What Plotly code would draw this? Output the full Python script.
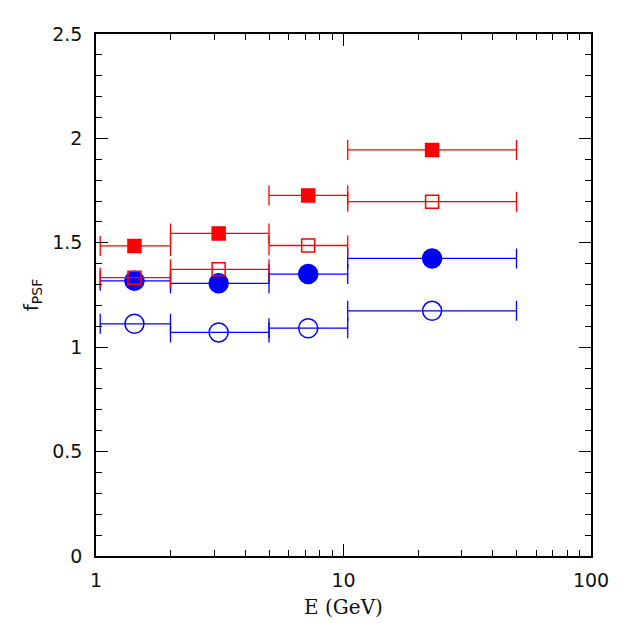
import plotly.graph_objects as go

# Energy bins (GeV)
bin_lo = [1.04, 2.0, 5.0, 10.4]
bin_hi = [2.0, 5.0, 10.4, 50.0]
e_center = [1.43, 3.13, 7.2, 22.8]

# f_PSF values
red_filled = [1.485, 1.545, 1.727, 1.945]
red_open = [1.333, 1.373, 1.487, 1.697]
blue_filled = [1.318, 1.306, 1.350, 1.425]
blue_open = [1.112, 1.071, 1.091, 1.174]

err_plus = [h - c for h, c in zip(bin_hi, e_center)]
err_minus = [c - l for c, l in zip(e_center, bin_lo)]

RED = "#ff0000"
BLUE = "#0000ff"

def series(y, color, symbol, size, name):
    return go.Scatter(
        x=e_center, y=y, mode="markers", name=name,
        marker=dict(symbol=symbol, size=size, color=color,
                    line=dict(color=color, width=1.5)),
        error_x=dict(type="data", symmetric=False, array=err_plus,
                     arrayminus=err_minus, color=color, thickness=1.3, width=10),
        showlegend=False,
    )

fig = go.Figure()
fig.add_trace(series(blue_open, BLUE, "circle-open", 19, "blue open"))
fig.add_trace(series(blue_filled, BLUE, "circle", 19, "blue filled"))
fig.add_trace(series(red_open, RED, "square-open", 13, "red open"))
fig.add_trace(series(red_filled, RED, "square", 13, "red filled"))

minor_x = [2, 3, 4, 5, 6, 7, 8, 9, 20, 30, 40, 50, 60, 70, 80, 90]

fig.update_layout(
    width=623, height=623,
    margin=dict(l=88, r=40, t=26, b=75),
    plot_bgcolor="white", paper_bgcolor="white",
    font=dict(family="DejaVu Sans", size=19, color="#111"),
    xaxis=dict(
        type="log", range=[0, 2],
        tickvals=[1, 10, 100], ticktext=["1", "10", "100"],
        ticks="inside", ticklen=12, tickwidth=1.2, tickcolor="black",
        showline=True, linecolor="black", linewidth=1.5, mirror="ticks",
        showgrid=False, zeroline=False,
        minor=dict(tickvals=minor_x, ticks="inside", ticklen=6, tickwidth=1.2,
                   tickcolor="black", showgrid=False),
        title=dict(text="E (GeV)", font=dict(family="DejaVu Serif", size=20), standoff=10),
        ticklabelstandoff=6,
    ),
    yaxis=dict(
        range=[0, 2.5], dtick=0.5, tick0=0,
        ticks="inside", ticklen=12, tickwidth=1.2, tickcolor="black",
        showline=True, linecolor="black", linewidth=1.5, mirror="ticks",
        showgrid=False, zeroline=False,
        minor=dict(dtick=0.1, ticks="inside", ticklen=6, tickwidth=1.2,
                   tickcolor="black", showgrid=False),
        title=dict(text="f<sub>PSF</sub>", font=dict(family="DejaVu Sans", size=20), standoff=8),
        ticklabelstandoff=8,
    ),
)

fig.write_html("out.html")
